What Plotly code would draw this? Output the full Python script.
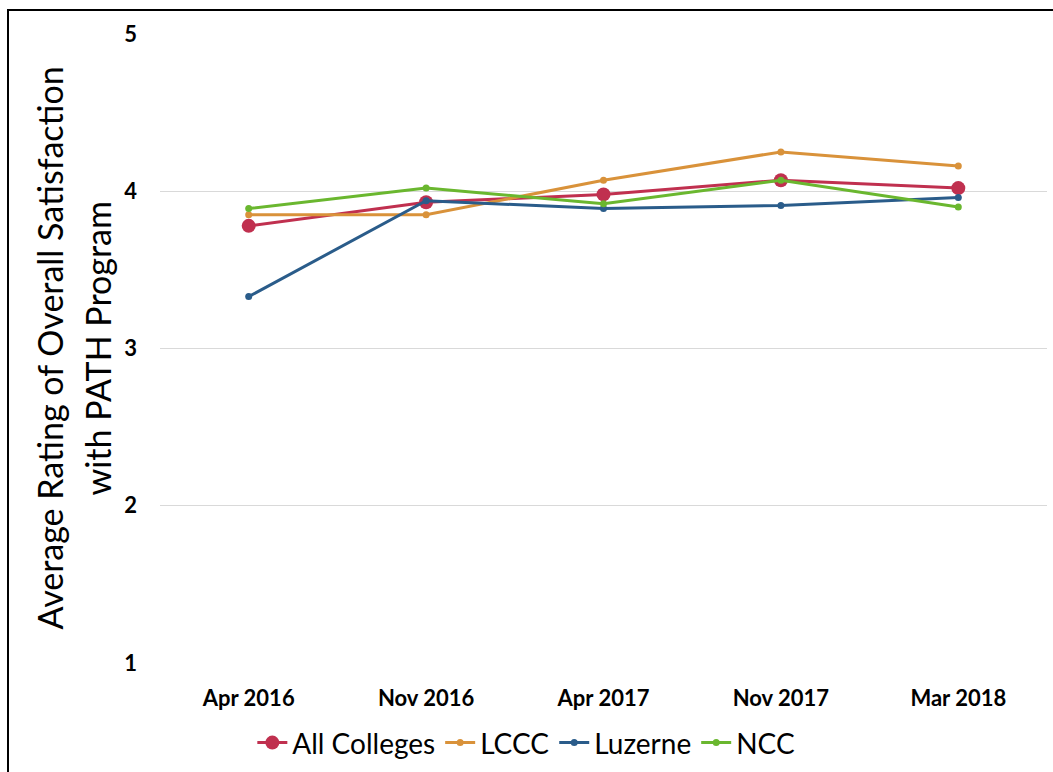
import plotly.graph_objects as go

categories = ["Apr 2016", "Nov 2016", "Apr 2017", "Nov 2017", "Mar 2018"]
all_colleges = [3.78, 3.93, 3.98, 4.07, 4.02]
lccc = [3.85, 3.85, 4.07, 4.25, 4.16]
luzerne = [3.33, 3.94, 3.89, 3.91, 3.96]
ncc = [3.89, 4.02, 3.92, 4.07, 3.90]
y_ticks = [1, 2, 3, 4, 5]
title_lines = ["Average Rating of Overall Satisfaction", "with PATH Program"]

FONT = "Lato"

fig = go.Figure()
series = [
    ("All Colleges", all_colleges, "#C0304F", 14),
    ("LCCC", lccc, "#D9923A", 7),
    ("Luzerne", luzerne, "#2A5C8A", 7),
    ("NCC", ncc, "#6AB72F", 7),
]
for name, vals, color, msize in series:
    fig.add_trace(go.Scatter(
        x=categories, y=vals, name=name, mode="lines+markers",
        line=dict(color=color, width=3),
        marker=dict(color=color, size=msize),
    ))

fig.update_layout(
    width=1053, height=772,
    margin=dict(l=160, r=6, t=34, b=109, autoexpand=False),
    paper_bgcolor="white", plot_bgcolor="white",
    font=dict(family=FONT, color="black"),
    showlegend=True,
    legend=dict(orientation="h", x=0.413, xanchor="center", y=-0.127, yanchor="middle",
                font=dict(size=28, family=FONT), itemwidth=30, tracegroupgap=0),
    xaxis=dict(type="category", range=[-0.5, 4.5], showgrid=False, zeroline=False,
               showline=False, ticks="", tickfont=dict(size=22, family=FONT, weight="bold"),
               ticklabelstandoff=20),
    yaxis=dict(range=[1, 5], tickvals=y_ticks, showgrid=True, gridcolor="#D9D9D9",
               gridwidth=1, zeroline=False, showline=False, ticks="",
               tickfont=dict(size=22, family=FONT, weight="bold"), ticklabelstandoff=22),
)

for txt, px in zip(title_lines, [49, 97]):
    fig.add_annotation(
        text=txt, xref="paper", yref="paper", x=(px - 160) / 887, y=0.5,
        xanchor="center", yanchor="middle", textangle=-90, showarrow=False,
        font=dict(size=34, family=FONT, color="black"),
    )

fig.add_shape(type="rect", xref="paper", yref="paper",
              x0=(8 - 160) / 887, x1=1.2, y0=-0.3, y1=1 + (34 - 10) / 629,
              line=dict(color="black", width=2), fillcolor="rgba(0,0,0,0)", layer="above")

fig.write_html("out.html")
